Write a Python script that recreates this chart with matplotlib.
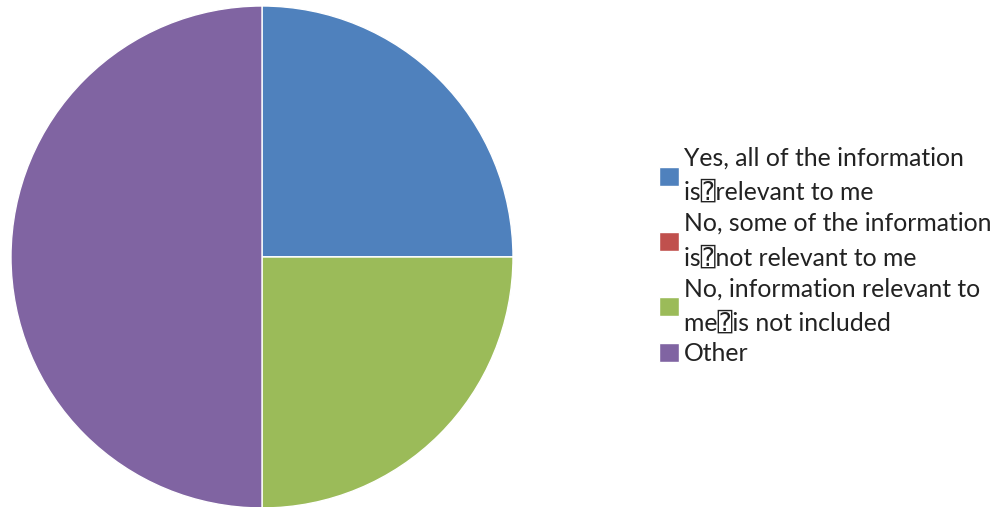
import matplotlib.pyplot as plt

labels = ["Yes, all of the information\nis\u2370relevant to me",
          "No, some of the information\nis\u2370not relevant to me",
          "No, information relevant to\nme\u2370is not included",
          "Other"]
counts = [1, 0, 1, 2]
colors = ["#4F81BD", "#C0504D", "#9BBB59", "#8064A2"]

plt.rcParams['font.family'] = ['Lato', 'DejaVu Sans', 'DejaVu Sans Mono']

fig = plt.figure(figsize=(9.95, 5.07), dpi=100)
ax = fig.add_axes([11/995, -1/507, 502/995, 502/507])
wedges, _ = ax.pie(counts, colors=colors, startangle=90, counterclock=False,
                   radius=1.0, wedgeprops=dict(edgecolor="white", linewidth=1))
ax.set_xlim(-1.0, 1.0)
ax.set_ylim(-1.0, 1.0)
ax.set_aspect("equal")

leg = fig.legend(wedges, labels, loc="center left", bbox_to_anchor=(642/995, 0.495),
                 frameon=False, fontsize=17.8, handlelength=0.8, handleheight=0.8,
                 handletextpad=0.2, labelspacing=0.32, borderpad=0.2)
for t in leg.get_texts():
    t.set_linespacing(1.55)
    t.set_color("#222222")

fig.savefig("out.png", dpi=100)
